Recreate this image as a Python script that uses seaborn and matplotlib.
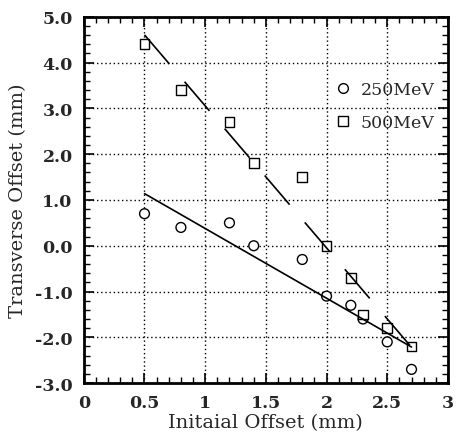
import numpy as np
import pandas as pd
import matplotlib
matplotlib.use('Agg')
import matplotlib.pyplot as plt
import seaborn as sns
from matplotlib.lines import Line2D
from matplotlib.ticker import MultipleLocator, FormatStrFormatter, FuncFormatter

# data
initial_offset = [0.5, 0.8, 1.2, 1.4, 1.8, 2.0, 2.2, 2.3, 2.5, 2.7]
offset_250 = [0.7, 0.4, 0.5, 0.0, -0.3, -1.1, -1.3, -1.6, -2.1, -2.7]
offset_500 = [4.4, 3.4, 2.7, 1.8, 1.5, 0.0, -0.7, -1.5, -1.8, -2.2]
energy_labels = ['250MeV', '500MeV']

sns.set_style('ticks')
plt.rcParams['font.family'] = ['DejaVu Serif', 'Liberation Serif']

df = pd.DataFrame({
    'x': initial_offset * 2,
    'y': offset_250 + offset_500,
    'energy': [energy_labels[0]] * len(initial_offset) + [energy_labels[1]] * len(initial_offset),
})

fig = plt.figure(figsize=(4.58, 4.35), dpi=100)
ax = fig.add_axes([0.183, 0.117, 0.795, 0.842])

# dotted grid at major ticks
ax.set_axisbelow(True)
ax.grid(True, which='major', color='black', linestyle=(0, (1, 2)), linewidth=1.0)

# least-squares fits
sns.regplot(x=initial_offset, y=offset_250, ax=ax, ci=None, scatter=False, truncate=True,
            line_kws=dict(color='black', linewidth=1.2))
sns.regplot(x=initial_offset, y=offset_500, ax=ax, ci=None, scatter=False, truncate=True,
            line_kws=dict(color='black', linewidth=1.2, dashes=(23, 14)))

sns.scatterplot(data=df, x='x', y='y', style='energy', markers={'250MeV': 'o', '500MeV': 's'},
                ax=ax, s=50, facecolor='white', edgecolor='black', linewidth=1.0, legend=False)

handles = [Line2D([], [], linestyle='none', marker='o', markersize=7, markerfacecolor='white',
                  markeredgecolor='black', markeredgewidth=1.0),
           Line2D([], [], linestyle='none', marker='s', markersize=7, markerfacecolor='white',
                  markeredgecolor='black', markeredgewidth=1.0)]
ax.legend(handles, energy_labels, loc='upper left', bbox_to_anchor=(0.645, 0.868), frameon=False,
          fontsize=12.5, handletextpad=0.5, labelspacing=0.95, handlelength=1.0)

ax.set_xlim(0, 3)
ax.set_ylim(-3, 5)
ax.xaxis.set_major_locator(MultipleLocator(0.5))
ax.xaxis.set_minor_locator(MultipleLocator(0.1))
ax.yaxis.set_major_locator(MultipleLocator(1.0))
ax.yaxis.set_minor_locator(MultipleLocator(0.2))
ax.xaxis.set_major_formatter(FuncFormatter(lambda v, p: f'{v:g}'))
ax.yaxis.set_major_formatter(FormatStrFormatter('%.1f'))
ax.tick_params(which='both', direction='in', top=True, right=True, color='black')
ax.tick_params(which='major', length=7, width=1.2, labelsize=12.5, pad=8)
ax.tick_params(which='minor', length=4, width=1.0)
for lbl in ax.get_xticklabels() + ax.get_yticklabels():
    lbl.set_fontweight('bold')
for sp in ax.spines.values():
    sp.set_linewidth(2.0)
    sp.set_color('black')

ax.set_xlabel('Initaial Offset (mm)', fontsize=14, labelpad=1)
ax.set_ylabel('Transverse Offset (mm)', fontsize=14, labelpad=6)

fig.savefig('out.png', dpi=100)
